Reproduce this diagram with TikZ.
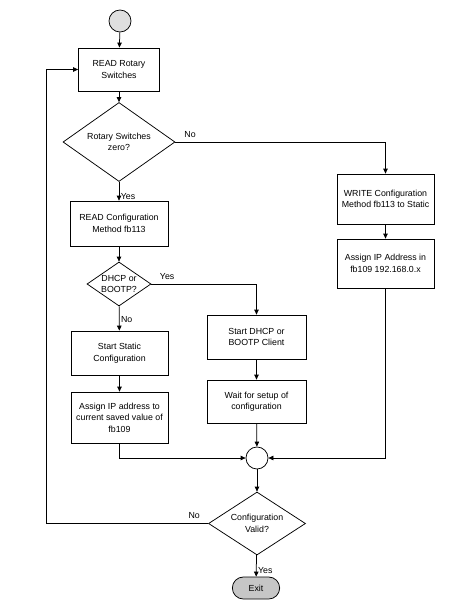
\documentclass[tikz,border=0pt]{standalone}
\usepackage{fontspec}
\setmainfont{Liberation Sans}
\usetikzlibrary{arrows.meta, shapes.geometric, shapes.misc}

\begin{document}
\begin{tikzpicture}[
    x=1pt, y=-1pt,
    every node/.style={font=\fontsize{8.8}{11.5}\selectfont},
    box/.style={rectangle,draw,line width=0.75pt,align=center,minimum width=97pt,minimum height=44pt,inner sep=2pt},
    decision/.style={diamond,draw,line width=0.75pt,align=center,inner sep=0pt},
    arrow/.style={-{Triangle[length=5pt,width=4.5pt]},line width=0.75pt},
    lbl/.style={font=\fontsize{8.8}{10}\selectfont,inner sep=1.5pt}
]
    \useasboundingbox (0,0) rectangle (467,607);

    % Start and main column
    \node[circle,draw,line width=0.75pt,fill=gray!25,minimum size=22pt,inner sep=0pt] (start) at (120,21) {};
    \node[box,minimum width=81pt,minimum height=43pt] (RRS) at (119,69.5) {READ Rotary\\Switches};
    \node[decision,aspect=1.42,minimum width=112pt,minimum height=79pt] (RSZ) at (119,142) {Rotary Switches\\zero?};
    \node[box,minimum width=98pt,minimum height=45pt] (RCM) at (119,223.5) {READ Configuration\\Method fb113};
    \node[decision,aspect=1.5,minimum width=64pt,minimum height=44pt] (DHCP) at (119,284) {DHCP or\\BOOTP?};
    \node[box] (SSC) at (119.5,353) {Start Static\\Configuration};
    \node[box,minimum height=51pt] (AIP) at (119.5,417.5) {Assign IP address to\\current saved value of\\fb109};

    % DHCP branch
    \node[box,minimum width=99pt] (SDC) at (256.5,337) {Start DHCP or\\BOOTP Client};
    \node[box,minimum width=99pt,minimum height=43pt] (WSC) at (256.5,401.5) {Wait for setup of\\configuration};

    % Static branch (switches zero)
    \node[box,minimum height=50pt] (WCM) at (385.5,199) {WRITE Configuration\\Method fb113 to Static};
    \node[box,minimum height=49pt] (AIS) at (385.5,263.5) {Assign IP Address in\\fb109 192.168.0.x};

    % Merge, check and exit
    \node[circle,draw,line width=0.75pt,minimum size=22pt,inner sep=0pt] (merge) at (257,458) {};
    \node[decision,aspect=1.54,minimum width=97pt,minimum height=63pt] (CV) at (257,523.5) {Configuration\\Valid?};
    \node[rounded rectangle,draw,line width=0.75pt,fill=gray!45,minimum width=54pt,minimum height=22pt] (exit) at (256,588) {Exit};
    \coordinate (back) at (46,523.5);

    % Connections
    \draw[arrow] (start) -- (RRS);
    \draw[arrow] (RRS) -- (RSZ);
    \draw[arrow] (RSZ) -- node[lbl,pos=0.8,right] {Yes} (RCM);
    \draw[arrow] (RCM) -- (DHCP);
    \draw[arrow] (DHCP) -- node[lbl,pos=0.56,right] {No} (SSC);
    \draw[arrow] (SSC) -- (AIP);
    \draw[arrow] (AIP.south) |- (merge.west);

    \draw[arrow] (DHCP.east) -| node[lbl,pos=0.075,above=3pt] {Yes} (SDC.north);
    \draw[arrow] (SDC) -- (WSC);
    \draw[arrow] (WSC) -- (merge);

    \draw[arrow] (RSZ.east) -| node[lbl,pos=0.035,above=3pt] {No} (WCM.north);
    \draw[arrow] (WCM) -- (AIS);
    \draw[arrow] (AIS.south) |- (merge.east);

    \draw[arrow] (merge) -- (CV);
    \draw[arrow] (CV) -- node[lbl,pos=0.7,right] {Yes} (exit);
    \draw[arrow] (CV.west) -- node[lbl,pos=0.086,above=3pt] {No} (back) |- (RRS.west);
\end{tikzpicture}
\end{document}
